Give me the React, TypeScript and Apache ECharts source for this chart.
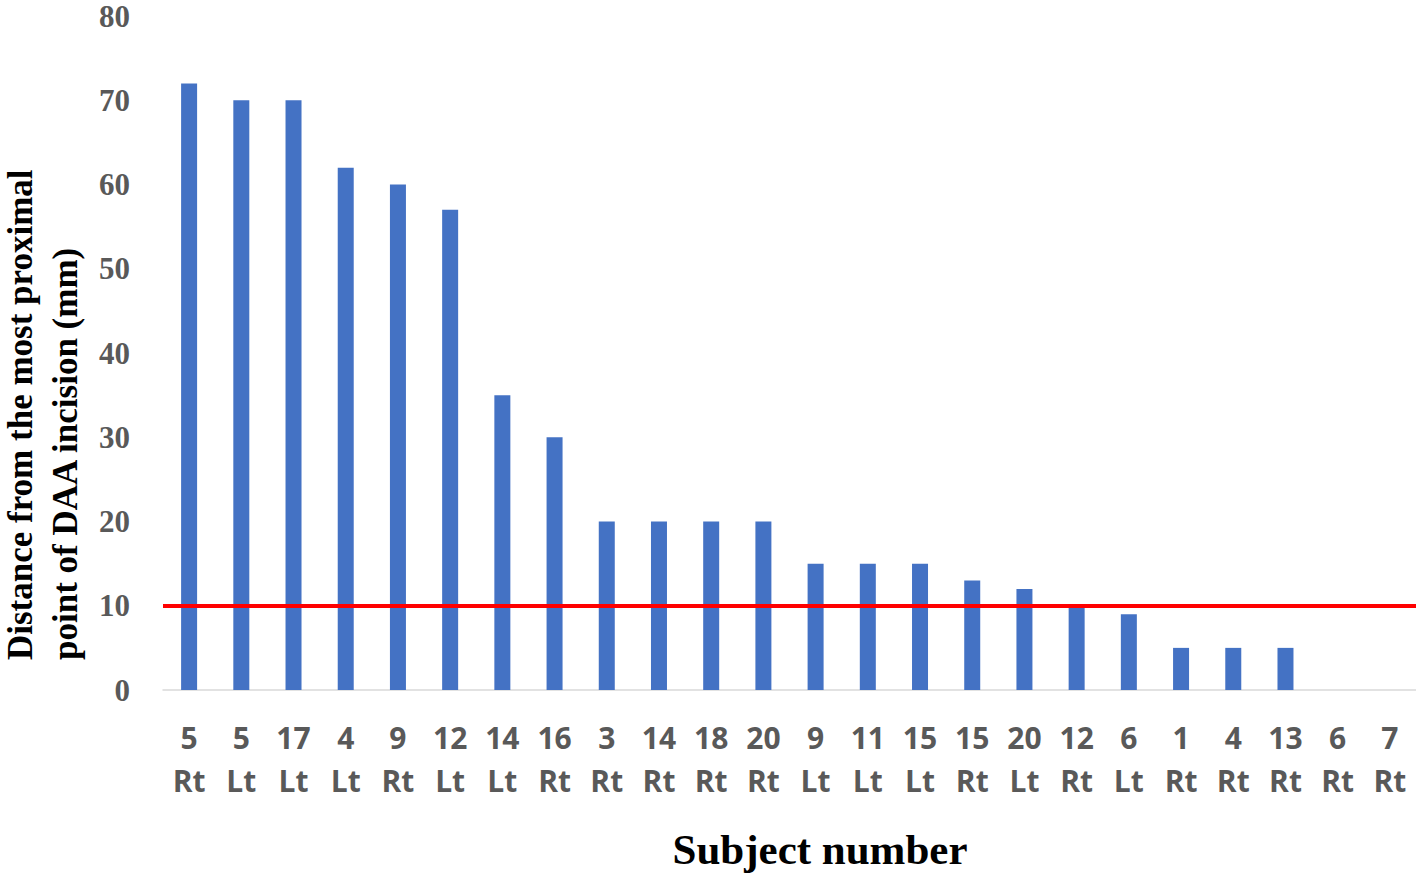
import React, { useEffect, useRef } from "react";
import * as echarts from "echarts";

const subjects = ["5", "5", "17", "4", "9", "12", "14", "16", "3", "14", "18", "20", "9", "11", "15", "15", "20", "12", "6", "1", "4", "13", "6", "7"];
const sides = ["Rt", "Lt", "Lt", "Lt", "Rt", "Lt", "Lt", "Rt", "Rt", "Rt", "Rt", "Rt", "Lt", "Lt", "Lt", "Rt", "Lt", "Rt", "Lt", "Rt", "Rt", "Rt", "Rt", "Rt"];
const distances = [72, 70, 70, 62, 60, 57, 35, 30, 20, 20, 20, 20, 15, 15, 15, 13, 12, 10, 9, 5, 5, 5, 0, 0];
const threshold = 10;
const yTicks = { min: 0, max: 80, interval: 10 };

export default function App() {
  const ref = useRef<HTMLDivElement>(null);
  useEffect(() => {
    if (!ref.current) return;
    const chart = echarts.init(ref.current, null, { renderer: "svg" });
    const categories = subjects.map((s, i) => `${s}\n${sides[i]}`);
    chart.setOption({
      animation: false,
      backgroundColor: "#ffffff",
      grid: { left: 163, right: 0, top: 16, bottom: 184 },
      xAxis: {
        type: "category",
        data: categories,
        axisLine: { lineStyle: { color: "#d9d9d9", width: 1.5 } },
        axisTick: { show: false },
        axisLabel: {
          interval: 0,
          margin: 26,
          color: "#595959",
          fontFamily: "Open Sans",
          fontWeight: "bold",
          fontSize: 30,
          lineHeight: 43,
        },
      },
      yAxis: {
        type: "value",
        min: yTicks.min,
        max: yTicks.max,
        interval: yTicks.interval,
        axisLine: { show: false },
        axisTick: { show: false },
        splitLine: { show: false },
        axisLabel: {
          margin: 33,
          color: "#595959",
          fontFamily: "Liberation Serif",
          fontWeight: "bold",
          fontSize: 31,
        },
      },
      series: [
        {
          type: "bar",
          data: distances,
          barWidth: 16,
          itemStyle: { color: "#4472C4" },
          markLine: {
            silent: true,
            symbol: "none",
            label: { show: false },
            lineStyle: { color: "#ff0000", width: 4, type: "solid" },
            data: [{ yAxis: threshold }],
          },
        },
      ],
      graphic: [
        {
          type: "text",
          x: 20,
          y: 660,
          rotation: Math.PI / 2,
          style: {
            text: "Distance from the most proximal",
            fill: "#000000",
            font: "bold 35px 'Liberation Serif'",
            textAlign: "left",
            textVerticalAlign: "middle",
          },
        },
        {
          type: "text",
          x: 65,
          y: 660,
          rotation: Math.PI / 2,
          style: {
            text: "point of DAA incision (mm)",
            fill: "#000000",
            font: "bold 35px 'Liberation Serif'",
            textAlign: "left",
            textVerticalAlign: "middle",
          },
        },
        {
          type: "text",
          x: 820,
          y: 849,
          style: {
            text: "Subject number",
            fill: "#000000",
            font: "bold 43px 'Liberation Serif'",
            textAlign: "center",
            textVerticalAlign: "middle",
          },
        },
      ],
    });
    return () => chart.dispose();
  }, []);
  return (
    <div
      ref={ref}
      style={{ position: "fixed", left: 0, top: 0, width: 1416, height: 874, background: "#fff" }}
    />
  );
}
